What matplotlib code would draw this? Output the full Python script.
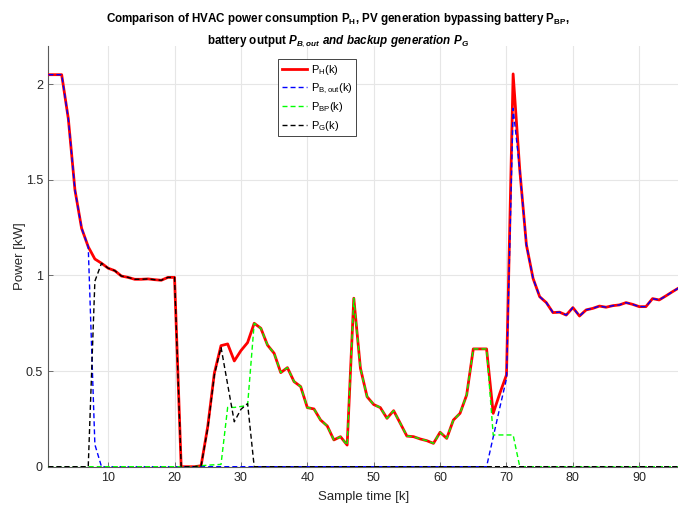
import matplotlib
matplotlib.use("Agg")
import matplotlib.pyplot as plt
import numpy as np

plt.rcParams['font.family'] = ['Liberation Sans', 'DejaVu Sans']
plt.rcParams['mathtext.fontset'] = 'custom'
plt.rcParams['mathtext.rm'] = 'Liberation Sans'
plt.rcParams['mathtext.it'] = 'Liberation Sans:italic:bold'
plt.rcParams['mathtext.bf'] = 'Liberation Sans:bold'

k = list(range(1, 97))

P_H = [2.05, 2.05, 2.05, 1.82, 1.447, 1.247, 1.15, 1.086, 1.064, 1.038, 1.025, 0.997,
       0.99, 0.98, 0.98, 0.982, 0.978, 0.975, 0.99, 0.99, 0.0, 0.0, 0.0, 0.005,
       0.21, 0.49, 0.633, 0.642, 0.553, 0.607, 0.649, 0.75, 0.724, 0.636, 0.593, 0.492,
       0.518, 0.445, 0.419, 0.309, 0.302, 0.244, 0.213, 0.14, 0.157, 0.113, 0.881, 0.515,
       0.366, 0.325, 0.309, 0.253, 0.293, 0.227, 0.16, 0.157, 0.145, 0.136, 0.122, 0.18,
       0.148, 0.244, 0.279, 0.375, 0.616, 0.616, 0.616, 0.279, 0.384, 0.48, 2.054, 1.552,
       1.16, 0.985, 0.889, 0.858, 0.806, 0.808, 0.793, 0.832, 0.788, 0.82, 0.828, 0.84,
       0.834, 0.842, 0.846, 0.858, 0.849, 0.837, 0.837, 0.879, 0.872, 0.893, 0.915, 0.936]

P_Bout = [2.05, 2.05, 2.05, 1.82, 1.447, 1.247, 1.15, 0.116, 0.0, 0.0, 0.0, 0.0,
          0.0, 0.0, 0.0, 0.0, 0.0, 0.0, 0.0, 0.0, 0.0, 0.0, 0.0, 0.0,
          0.0, 0.0, 0.0, 0.0, 0.0, 0.0, 0.0, 0.0, 0.0, 0.0, 0.0, 0.0,
          0.0, 0.0, 0.0, 0.0, 0.0, 0.0, 0.0, 0.0, 0.0, 0.0, 0.0, 0.0,
          0.0, 0.0, 0.0, 0.0, 0.0, 0.0, 0.0, 0.0, 0.0, 0.0, 0.0, 0.0,
          0.0, 0.0, 0.0, 0.0, 0.0, 0.0, 0.0, 0.155, 0.31, 0.46, 1.874, 1.552,
          1.16, 0.985, 0.889, 0.858, 0.806, 0.808, 0.793, 0.832, 0.788, 0.82, 0.828, 0.84,
          0.834, 0.842, 0.846, 0.858, 0.849, 0.837, 0.837, 0.879, 0.872, 0.893, 0.915, 0.936]

P_BP = [0.0, 0.0, 0.0, 0.0, 0.0, 0.0, 0.0, 0.0, 0.0, 0.0, 0.0, 0.0,
        0.0, 0.0, 0.0, 0.0, 0.0, 0.0, 0.0, 0.0, 0.0, 0.0, 0.0, 0.005,
        0.008, 0.01, 0.012, 0.31, 0.31, 0.315, 0.32, 0.75, 0.724, 0.636, 0.593, 0.492,
        0.518, 0.445, 0.419, 0.309, 0.302, 0.244, 0.213, 0.14, 0.157, 0.113, 0.881, 0.515,
        0.366, 0.325, 0.309, 0.253, 0.293, 0.227, 0.16, 0.157, 0.145, 0.136, 0.122, 0.18,
        0.148, 0.244, 0.279, 0.375, 0.616, 0.616, 0.616, 0.166, 0.166, 0.166, 0.166, 0.0,
        0.0, 0.0, 0.0, 0.0, 0.0, 0.0, 0.0, 0.0, 0.0, 0.0, 0.0, 0.0,
        0.0, 0.0, 0.0, 0.0, 0.0, 0.0, 0.0, 0.0, 0.0, 0.0, 0.0, 0.0]

P_G = [0.0, 0.0, 0.0, 0.0, 0.0, 0.0, 0.0, 0.97, 1.064, 1.038, 1.025, 0.997,
       0.99, 0.98, 0.98, 0.982, 0.978, 0.975, 0.99, 0.99, 0.0, 0.0, 0.0, 0.005,
       0.2, 0.48, 0.625, 0.43, 0.235, 0.30, 0.33, 0.0, 0.0, 0.0, 0.0, 0.0,
       0.0, 0.0, 0.0, 0.0, 0.0, 0.0, 0.0, 0.0, 0.0, 0.0, 0.0, 0.0,
       0.0, 0.0, 0.0, 0.0, 0.0, 0.0, 0.0, 0.0, 0.0, 0.0, 0.0, 0.0,
       0.0, 0.0, 0.0, 0.0, 0.0, 0.0, 0.0, 0.0, 0.0, 0.0, 0.0, 0.0,
       0.0, 0.0, 0.0, 0.0, 0.0, 0.0, 0.0, 0.0, 0.0, 0.0, 0.0, 0.0,
       0.0, 0.0, 0.0, 0.0, 0.0, 0.0, 0.0, 0.0, 0.0, 0.0, 0.0, 0.0]

x_ticks = [10, 20, 30, 40, 50, 60, 70, 80, 90]
y_ticks = [0, 0.5, 1, 1.5, 2]
y_tick_labels = ['0', '0.5', '1', '1.5', '2']

W, H = 678, 509
fig = plt.figure(figsize=(W / 100, H / 100), dpi=100)
left, right, top, bottom = 48.4, 679.1, 46.0, 466.7
ax = fig.add_axes([left / W, 1 - bottom / H, (right - left) / W, (bottom - top) / H])

dash = (3.6, 2.2)
ax.plot(k, P_H, color='#ff0000', lw=2.0, label=r'P$_\mathrm{H}$(k)', zorder=3)
ax.plot(k, P_Bout, color='#0000ff', lw=1.0, dashes=dash, label=r'P$_\mathrm{B,out}$(k)', zorder=4)
ax.plot(k, P_BP, color='#00ff00', lw=1.0, dashes=dash, label=r'P$_\mathrm{BP}$(k)', zorder=5)
ax.plot(k, P_G, color='#000000', lw=1.0, dashes=dash, label=r'P$_\mathrm{G}$(k)', zorder=6)

ax.set_xlim(1, 96)
ax.set_ylim(0, 2.2)
ax.set_xticks(x_ticks)
ax.set_yticks(y_ticks)
ax.set_yticklabels(y_tick_labels)
ax.grid(True, color='#e6e6e6', lw=0.8)
ax.set_axisbelow(True)
for s in ['top', 'right']:
    ax.spines[s].set_visible(False)
for s in ['left', 'bottom']:
    ax.spines[s].set_color('#5a5a5a')
    ax.spines[s].set_linewidth(0.8)
ax.tick_params(direction='in', length=3.5, width=0.6, colors='#5a5a5a', labelcolor='#262626',
               labelsize=9, pad=4)

ax.set_xlabel('Sample time [k]', fontsize=9.5, color='#262626', labelpad=5)
ax.set_ylabel('Power [kW]', fontsize=9.5, color='#262626', labelpad=0)

leg = ax.legend(loc='upper left', bbox_to_anchor=((278 - left) / (right - left), (bottom - 59) / (bottom - top)),
                fontsize=8, frameon=True, fancybox=False, edgecolor='#262626', framealpha=1,
                handlelength=2.3, handletextpad=0.3, borderpad=0.35, labelspacing=0.4, borderaxespad=0)
leg.get_frame().set_linewidth(0.6)

tx = 338 / W
fig.text(tx, 1 - 22 / H, r'Comparison of HVAC power consumption P$_\mathbf{H}$, PV generation bypassing battery P$_\mathbf{BP}$,',
         ha='center', va='baseline', fontsize=8.4, fontweight='bold', color='#000000')
fig.text(tx, 1 - 44 / H, r'battery output $P_{B,out}\ and\ backup\ generation\ P_G$',
         ha='center', va='baseline', fontsize=8.4, fontweight='bold', color='#000000')

fig.savefig('out.png', dpi=100)
